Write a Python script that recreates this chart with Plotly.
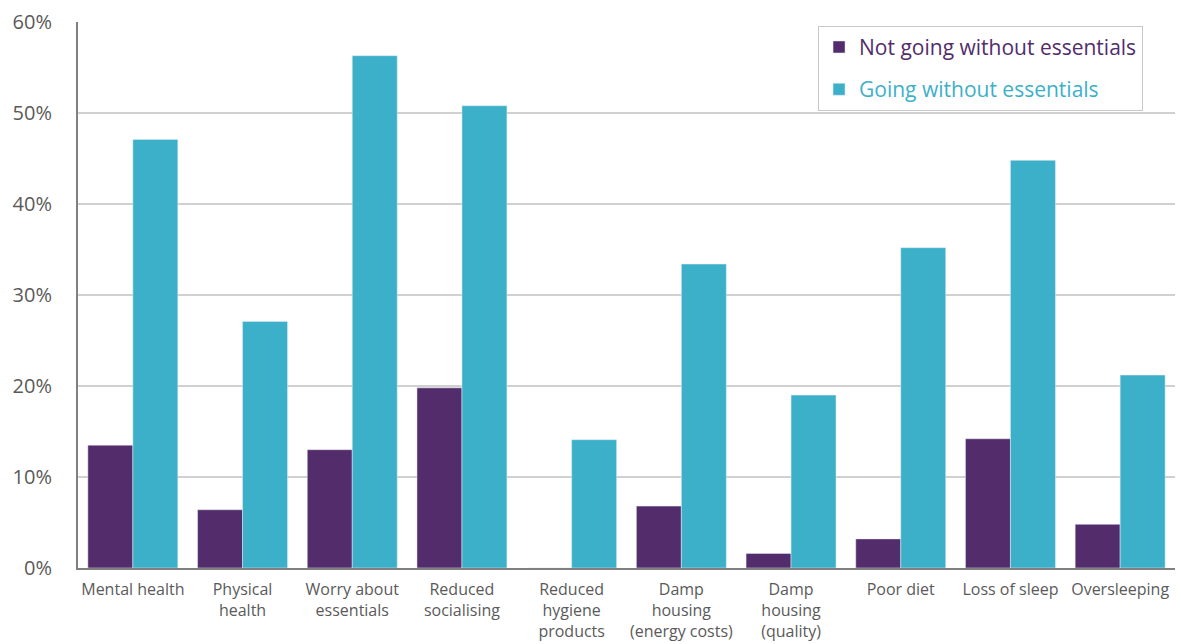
import plotly.graph_objects as go

categories = [
    "Mental health", "Physical<br>health", "Worry about<br>essentials",
    "Reduced<br>socialising", "Reduced<br>hygiene<br>products",
    "Damp<br>housing<br>(energy costs)", "Damp<br>housing<br>(quality)",
    "Poor diet", "Loss of sleep", "Oversleeping",
]
not_going_without = [13.5, 6.4, 13.0, 19.8, 0.0, 6.8, 1.6, 3.2, 14.2, 4.8]
going_without = [47.1, 27.1, 56.3, 50.8, 14.1, 33.4, 19.0, 35.2, 44.8, 21.2]
y_ticks = [0, 10, 20, 30, 40, 50, 60]

PURPLE = "#532C6B"
TEAL = "#3DB0C9"
GREY_TEXT = "#5A5A5A"

fig = go.Figure()
fig.add_trace(go.Bar(
    x=categories, y=not_going_without, marker_color=PURPLE,
    legendgroup="a",
    name=f"<span style='color:{PURPLE}'>Not going without essentials</span>",
))
fig.add_trace(go.Bar(
    x=categories, y=going_without, marker_color=TEAL,
    legendgroup="b",
    name=f"<span style='color:{TEAL}'>Going without essentials</span>",
))

fig.update_layout(
    width=1181, height=644,
    margin=dict(l=78, r=6, t=22, b=76, autoexpand=False),
    paper_bgcolor="white", plot_bgcolor="white",
    barmode="group", bargap=0.18, bargroupgap=0,
    font=dict(family="Open Sans, sans-serif", color=GREY_TEXT),
    legend=dict(
        x=0.6746, y=0.993, xanchor="left", yanchor="top",
        bgcolor="white", bordercolor="#C8C8C8", borderwidth=1,
        font=dict(size=21), itemwidth=30, tracegroupgap=12,
    ),
    showlegend=True,
)
fig.update_xaxes(
    showline=True, linecolor="#808080", linewidth=2,
    tickfont=dict(size=16, color=GREY_TEXT), ticks="",
    ticklabelstandoff=6, automargin=False,
)
fig.update_yaxes(
    range=[0, 60], tickvals=y_ticks,
    ticktext=[f"{v}%" for v in y_ticks],
    showline=True, linecolor="#808080", linewidth=2,
    gridcolor="#D0D0D0", gridwidth=1.5,
    tickfont=dict(size=20, color=GREY_TEXT), ticks="",
    ticklabelstandoff=20, zeroline=False, automargin=False,
)

fig.write_html("out.html")
